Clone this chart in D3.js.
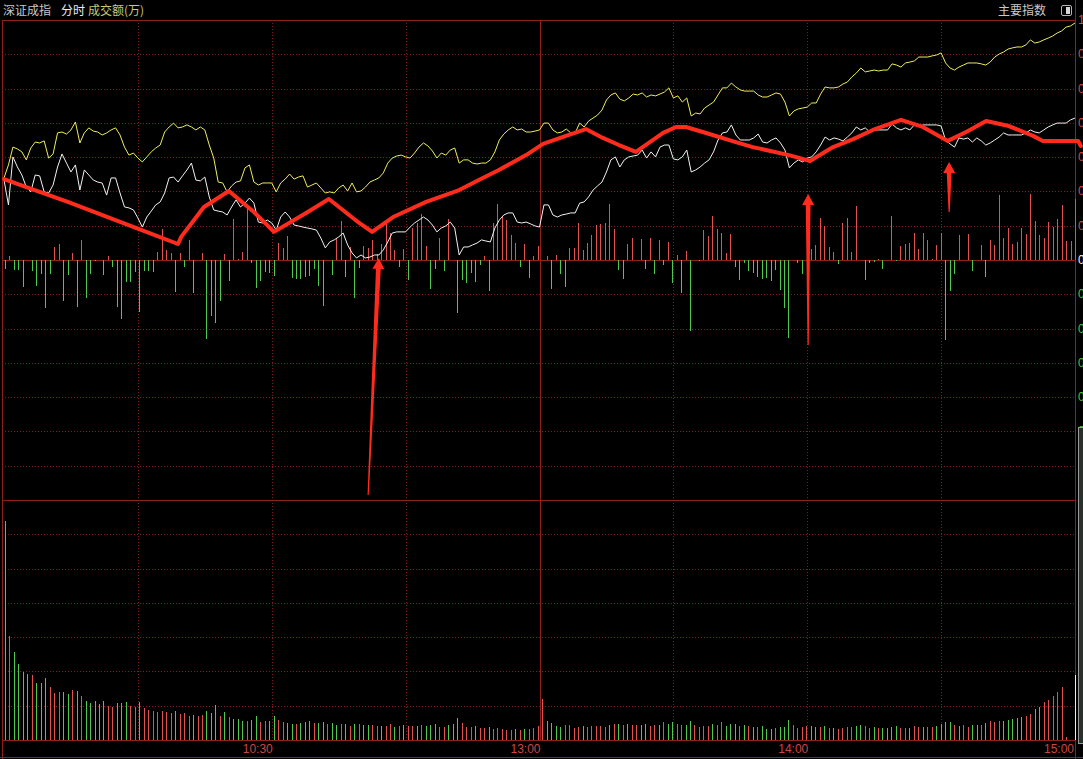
<!DOCTYPE html>
<html><head><meta charset="utf-8">
<script src="https://cdn.jsdelivr.net/npm/d3@7"></script>
<style>
html,body{margin:0;padding:0;background:#000;overflow:hidden;}
svg{display:block;}
</style></head><body>
<svg id="c" width="1083" height="759"></svg>
<script>
// ---------------- data ----------------
const headerTitle = "深证成指";
const headerMode = "分时";
const headerIndicator = "成交额(万)";
const headerRight = "主要指数";
const timeTickMinutes = [60, 120, 180, 240];
const timeTickLabels = ["10:30", "13:00", "14:00", "15:00"];
const gridMinutes = [30, 60, 90, 120, 150, 180, 210];
const priceTicks = [1.05, 0.90, 0.75, 0.60, 0.45, 0.30, 0.15, 0.00, -0.15, -0.30, -0.45, -0.60, -0.75, -0.90, -1.05];

// price change (%) per minute, white = index, yellow = leading line
const whiteLine = [
0.350,0.241,0.451,0.407,0.372,0.319,0.298,0.372,0.368,0.298,
0.293,0.328,0.407,0.464,0.424,0.385,0.416,0.306,0.394,0.372,
0.350,0.341,0.337,0.284,0.359,0.359,0.293,0.232,0.228,0.219,
0.184,0.144,0.188,0.214,0.241,0.254,0.293,0.359,0.363,0.341,
0.368,0.394,0.424,0.350,0.346,0.363,0.276,0.219,0.214,0.210,
0.197,0.232,0.263,0.232,0.249,0.271,0.249,0.166,0.162,0.175,
0.162,0.131,0.188,0.210,0.188,0.153,0.149,0.144,0.140,0.136,
0.131,0.096,0.053,0.079,0.088,0.101,0.118,0.066,0.031,0.009,
0.022,0.009,0.013,0.022,0.022,0.044,0.079,0.118,0.123,0.123,
0.123,0.144,0.162,0.175,0.188,0.175,0.153,0.123,0.140,0.149,
0.166,0.140,0.022,0.057,0.057,0.066,0.074,0.088,0.083,0.079,
0.140,0.175,0.197,0.206,0.206,0.166,0.162,0.166,0.158,0.149,
0.144,0.241,0.241,0.197,0.188,0.197,0.201,0.206,0.206,0.249,
0.254,0.276,0.306,0.324,0.341,0.385,0.438,0.451,0.407,0.438,
0.451,0.455,0.459,0.481,0.446,0.473,0.451,0.494,0.503,0.503,
0.442,0.438,0.451,0.481,0.385,0.394,0.407,0.424,0.438,0.473,
0.525,0.556,0.560,0.591,0.547,0.525,0.525,0.525,0.534,0.551,
0.516,0.512,0.525,0.534,0.512,0.481,0.403,0.424,0.438,0.429,
0.446,0.451,0.473,0.503,0.538,0.525,0.534,0.529,0.521,0.538,
0.556,0.582,0.569,0.578,0.560,0.569,0.569,0.569,0.569,0.595,
0.578,0.569,0.578,0.569,0.591,0.586,0.591,0.591,0.591,0.591,
0.586,0.525,0.508,0.494,0.534,0.529,0.534,0.516,0.534,0.521,
0.503,0.512,0.525,0.538,0.556,0.547,0.547,0.547,0.547,0.556,
0.569,0.560,0.556,0.569,0.582,0.591,0.599,0.599,0.599,0.613,
0.621];
const yellowLine = [
0.359,0.416,0.494,0.486,0.473,0.438,0.490,0.516,0.512,0.521,
0.446,0.464,0.556,0.560,0.551,0.569,0.604,0.512,0.556,0.578,
0.564,0.560,0.547,0.556,0.569,0.578,0.547,0.494,0.459,0.468,
0.446,0.429,0.451,0.473,0.490,0.503,0.560,0.582,0.599,0.578,
0.582,0.591,0.582,0.569,0.582,0.569,0.503,0.446,0.341,0.337,
0.298,0.324,0.341,0.346,0.403,0.416,0.341,0.328,0.337,0.337,
0.337,0.298,0.337,0.354,0.376,0.354,0.363,0.368,0.319,0.328,
0.337,0.315,0.293,0.298,0.293,0.315,0.328,0.302,0.337,0.298,
0.302,0.319,0.341,0.350,0.359,0.381,0.424,0.446,0.455,0.459,
0.451,0.446,0.468,0.494,0.512,0.499,0.477,0.446,0.468,0.459,
0.481,0.490,0.424,0.438,0.438,0.424,0.420,0.424,0.424,0.438,
0.473,0.525,0.551,0.569,0.582,0.569,0.573,0.560,0.560,0.564,
0.569,0.599,0.599,0.569,0.556,0.560,0.573,0.556,0.556,0.599,
0.582,0.608,0.621,0.634,0.656,0.700,0.722,0.731,0.704,0.696,
0.709,0.726,0.722,0.731,0.713,0.722,0.718,0.726,0.735,0.753,
0.709,0.718,0.691,0.709,0.630,0.643,0.639,0.665,0.678,0.691,
0.722,0.753,0.753,0.774,0.757,0.744,0.739,0.739,0.739,0.722,
0.713,0.713,0.722,0.731,0.726,0.691,0.630,0.652,0.661,0.665,
0.669,0.687,0.687,0.726,0.757,0.753,0.753,0.757,0.770,0.779,
0.801,0.818,0.840,0.823,0.827,0.831,0.827,0.831,0.831,0.858,
0.853,0.844,0.862,0.866,0.871,0.888,0.888,0.888,0.893,0.897,
0.906,0.862,0.840,0.831,0.844,0.853,0.862,0.862,0.862,0.858,
0.853,0.866,0.888,0.901,0.910,0.923,0.928,0.932,0.932,0.941,
0.963,0.949,0.954,0.963,0.971,0.980,0.993,1.002,1.019,1.024,
1.037];

// red / green strength bars around the zero line (basis points), one per minute
const flowBars = [
-3.9,1.8,-4.4,-4.4,-11.8,0,-4.8,-11.4,-6.1,-21.0,
-6.1,5.7,7.0,-17.9,-6.6,3.1,-20.6,8.8,-16.6,-6.1,
-0.4,0,-6.6,1.8,-3.1,-20.6,-25.8,-9.6,-9.6,-5.3,
-22.8,-4.8,-4.8,-5.3,3.5,13.6,4.4,3.1,-14.0,3.1,
-3.1,8.8,-14.4,0,3.1,-34.6,-24.5,-27.6,-17.9,2.6,
-9.2,17.9,0.4,3.5,22.3,-1.3,-12.3,-9.2,-5.3,-5.7,
-7.0,7.4,5.3,10.5,-7.9,-8.3,-8.3,-7.4,-7.0,-3.9,
-11.4,-20.1,0,-6.6,9.6,17.1,-7.4,5.7,-16.6,-3.5,
6.1,5.3,8.8,2.6,7.0,16.2,11.8,4.4,-3.1,4.8,
-8.8,14.0,16.2,20.1,6.1,-12.7,-3.9,9.6,-4.8,17.9,
0,-23.2,-8.8,-10.1,-5.7,-9.6,-2.2,1.8,-13.6,16.2,
24.5,19.3,17.5,10.9,7.4,-3.1,7.0,-7.9,1.8,6.1,
0,1.8,-12.7,2.2,-6.1,-11.8,5.3,5.3,16.2,4.4,
7.4,10.9,15.3,15.8,16.2,24.5,13.6,-4.4,-8.3,7.0,
9.6,0,9.2,-3.9,9.6,-6.1,8.8,-2.2,7.9,-10.1,
2.2,-14.4,3.9,-31.1,0,-0.4,13.1,10.5,19.3,13.6,
11.8,3.1,11.4,-3.1,-8.8,-1.3,-4.8,-5.7,-7.4,-8.3,
-7.9,-9.2,-4.4,-13.1,-21.0,-34.1,0,-1.3,-6.1,0,
4.8,6.6,18.4,14.9,5.7,3.5,-1.8,16.2,18.4,3.5,
23.6,0,-8.8,-1.3,-0.9,0.4,-3.9,0,19.3,-0.4,
6.1,7.0,7.4,11.8,4.8,11.8,8.8,0.4,6.6,11.8,
-35.0,-13.6,-6.1,10.9,0,11.4,-4.8,0,6.6,-7.4,
8.8,6.6,28.4,9.6,14.0,7.0,7.9,14.0,11.4,28.9,
17.1,10.9,9.6,16.6,14.4,17.9,24.1,8.3,8.3,26.7];

// turnover per minute (亿) and its colour code (R up, G down, W close)
const volume = [
438,208,176,152,136,132,130,114,114,124,
106,94,96,96,92,100,98,88,78,74,
78,72,78,68,66,74,74,76,68,66,
76,64,60,58,56,58,56,54,58,52,
54,48,50,48,50,58,54,70,48,56,
46,42,42,38,38,40,48,36,38,38,
48,40,36,34,32,32,34,36,38,34,
34,36,32,34,30,32,32,28,32,32,
30,30,30,28,28,28,32,26,28,30,
28,28,28,30,28,30,32,26,26,30,
32,44,34,26,26,28,24,24,26,22,
24,22,20,20,22,20,22,22,24,28,
82,38,34,28,26,30,30,24,26,28,
26,28,28,28,26,30,32,32,30,32,
30,30,30,32,28,30,30,36,32,36,
32,30,30,38,30,26,28,28,32,30,
36,28,32,32,28,30,28,26,26,28,
22,22,24,26,26,40,30,24,26,28,
28,26,26,28,24,24,22,24,26,26,
28,30,28,24,26,24,24,24,26,28,
24,24,24,28,26,26,26,26,28,32,
36,36,30,28,30,26,30,30,30,34,
38,36,38,38,40,42,44,46,48,52,
62,66,76,80,88,96,106,6,0,130];
const volumeColor =
"GRGGGGRGGG"+"RRRGGRGRGG"+"GGGRRGGGRR"+"GRRRRRRRGR"+"RRGRRGGGRG"+
"RGGGRGGRRG"+"GRRGGRGGGR"+"GGRGGRGRGR"+"GGRRGRRGRG"+"RRGRGGGRRG"+
"GGRRRGRRGR"+"RRRRGRGRRR"+"RGGGGRRRRG"+"RRRRRGRGRG"+"RRGGRRGRGG"+
"RRGGRRRRGR"+"RGGGRGRGRG"+"GGRGGGRRRR"+"GGRGRGRRRR"+"GGRRGRGGGG"+
"RRGRRGRRGG"+"GGRGRRGGRG"+"RRRGGGGGRR"+"GGRRRRRRRW";

// hand-drawn red annotation line (minute, %)
const noteT = [0,6.1,14.3,29.1,39.0,39.7,44.8,50.4,56.0,60.5,67.7,72.8,79.6,82.5,87.2,94.6,102.0,106.4,110.9,117.0,120.8,126.6,130.4,134.2,137.8,141.6,147.7,150.6,152.8,156.6,164.0,167.8,175.9,180.6,185.8,190.3,194.7,201.0,205.9,211.5,215.6,220.1,225.2,230.6,232.8,240.7,241.3];
const noteV = [0.354,0.311,0.254,0.144,0.070,0.101,0.232,0.302,0.210,0.123,0.206,0.267,0.162,0.123,0.188,0.254,0.306,0.350,0.394,0.459,0.508,0.547,0.573,0.534,0.503,0.473,0.556,0.582,0.582,0.560,0.516,0.494,0.459,0.433,0.494,0.529,0.569,0.613,0.582,0.521,0.560,0.608,0.586,0.543,0.521,0.521,0.499];
// arrows (minute, %)
const arrowTipT = [84.0, 180.2, 211.8];
const arrowTipV = [0.009, 0.289, 0.429];
const arrowTailT = [81.6, 180.2, 211.8];
const arrowTailV = [-1.028, -0.372, 0.210];

// ---------------- drawing ----------------
const svg = d3.select("#c");
const lineX = d3.scaleLinear().domain([0, 240]).range([4, 1075]);
const barX = d3.scaleLinear().domain([0, 239]).range([5, 1075]);
const yP = d3.scaleLinear().domain([-1.05, 1.05]).range([500, 20]);
const yFlow = d3.scaleLinear().domain([-105, 105]).range([500, 20]);
const yVol = d3.scaleLinear().domain([0, 480]).range([740, 500]);

const RED = "#e05252", GREEN = "#4fc84f";
const SOLID = "#8e2020", DOT = "#7c1c1c";
const px = v => Math.round(v) + 0.5;

svg.append("rect").attr("width", 1083).attr("height", 759).attr("fill", "#000");

const grid = svg.append("g").attr("shape-rendering", "crispEdges");
// horizontal price grid
priceTicks.forEach(v => {
  const y = px(yP(v));
  const solid = (v === 0 || Math.abs(v) === 1.05);
  grid.append("line").attr("x1", 2).attr("x2", 1075).attr("y1", y).attr("y2", y)
    .attr("stroke", solid ? SOLID : DOT)
    .attr("stroke-dasharray", solid ? null : "1,2");
});
// volume grid
d3.range(1, 7).forEach(i => {
  const y = px(yVol(480 * i / 7));
  grid.append("line").attr("x1", 2).attr("x2", 1075).attr("y1", y).attr("y2", y)
    .attr("stroke", DOT).attr("stroke-dasharray", "1,2");
});
grid.append("line").attr("x1", 2).attr("x2", 1075).attr("y1", px(yVol(0))).attr("y2", px(yVol(0))).attr("stroke", SOLID);
grid.append("line").attr("x1", 0).attr("x2", 1083).attr("y1", 757.5).attr("y2", 757.5).attr("stroke", SOLID);
// vertical grid
gridMinutes.forEach(m => {
  const x = px(lineX(m));
  const solid = m === 120;
  grid.append("line").attr("x1", x).attr("x2", x).attr("y1", 20).attr("y2", 740)
    .attr("stroke", solid ? SOLID : DOT).attr("stroke-dasharray", solid ? null : "1,2");
});
grid.append("line").attr("x1", 2.5).attr("x2", 2.5).attr("y1", 20).attr("y2", 759).attr("stroke", SOLID);
grid.append("line").attr("x1", 1075.5).attr("x2", 1075.5).attr("y1", 0).attr("y2", 759).attr("stroke", SOLID);

// strength bars
const fb = svg.append("g").attr("shape-rendering", "crispEdges");
flowBars.forEach((v, k) => {
  if (v === 0) return;
  const x = px(barX(k));
  fb.append("line").attr("x1", x).attr("x2", x)
    .attr("y1", yFlow(0)).attr("y2", yFlow(v))
    .attr("stroke", v > 0 ? RED : GREEN);
});

// volume bars
const vb = svg.append("g").attr("shape-rendering", "crispEdges");
volume.forEach((v, k) => {
  if (v === 0) return;
  const c = volumeColor[k];
  const x = px(barX(k));
  vb.append("line").attr("x1", x).attr("x2", x)
    .attr("y1", yVol(0)).attr("y2", yVol(v))
    .attr("stroke", c === "R" ? RED : c === "G" ? GREEN : "#eeeeee");
});

// price lines
const ln = d3.line().x((d, i) => lineX(i)).y(d => yP(d));
svg.append("path").attr("d", ln(yellowLine)).attr("fill", "none")
  .attr("stroke", "#eeee5a").attr("stroke-width", 1);
svg.append("path").attr("d", ln(whiteLine)).attr("fill", "none")
  .attr("stroke", "#f2f2f2").attr("stroke-width", 1);

// annotation line
const noteLine = d3.line().x(d => lineX(d[0])).y(d => yP(d[1]));
svg.append("path").attr("d", noteLine(noteT.map((t, i) => [t, noteV[i]])))
  .attr("fill", "none").attr("stroke", "#ff2b1c").attr("stroke-width", 4)
  .attr("stroke-linejoin", "round").attr("stroke-linecap", "round");

// arrows
arrowTipT.forEach((t, i) => {
  const tip = [lineX(t), yP(arrowTipV[i])];
  const tail = [lineX(arrowTailT[i]), yP(arrowTailV[i])];
  const dx = tip[0] - tail[0], dy = tip[1] - tail[1];
  const len = Math.hypot(dx, dy);
  const u = [dx / len, dy / len], n = [-u[1], u[0]];
  const L = 11, HW = 6, SW = 2.4, TW = 0.6;
  const B = [tip[0] - u[0] * L, tip[1] - u[1] * L];
  const pts = [
    [tail[0] + n[0] * TW, tail[1] + n[1] * TW],
    [B[0] + n[0] * SW, B[1] + n[1] * SW],
    [B[0] + n[0] * HW, B[1] + n[1] * HW],
    tip,
    [B[0] - n[0] * HW, B[1] - n[1] * HW],
    [B[0] - n[0] * SW, B[1] - n[1] * SW],
    [tail[0] - n[0] * TW, tail[1] - n[1] * TW]
  ];
  svg.append("polygon").attr("points", pts.map(p => p.join(",")).join(" "))
    .attr("fill", "#ff2b1c");
});

// right-side price labels (clipped by the window edge)
const font = "'Liberation Sans', 'Noto Sans CJK SC', sans-serif";
priceTicks.forEach(v => {
  svg.append("text").attr("x", 1078).attr("y", yP(v))
    .attr("dominant-baseline", "central")
    .attr("font-family", font).attr("font-size", 12)
    .attr("fill", v > 0 ? "#d84a4a" : v < 0 ? "#3cc83c" : "#f0f0f0")
    .text(Math.abs(v).toFixed(2) + "%");
});
// scroll strip
svg.append("rect").attr("x", 1078.5).attr("y", 427.5).attr("width", 6).attr("height", 316)
  .attr("fill", "#2c302c").attr("stroke", "#9a9a9a");

// time labels
timeTickMinutes.forEach((m, i) => {
  svg.append("text").attr("x", Math.min(lineX(m) + 1, 1074)).attr("y", 753)
    .attr("text-anchor", "end").attr("font-family", font).attr("font-size", 12)
    .attr("fill", "#cc4646").text(timeTickLabels[i]);
});

// header
const cjk = "'Noto Sans CJK SC', sans-serif";
svg.append("text").attr("x", 3).attr("y", 15).attr("font-family", cjk).attr("font-size", 12)
  .attr("fill", "#c8c8c8").text(headerTitle);
svg.append("text").attr("x", 61).attr("y", 15).attr("font-family", cjk).attr("font-size", 12)
  .attr("fill", "#ececec").text(headerMode);
svg.append("text").attr("x", 88).attr("y", 15).attr("font-family", cjk).attr("font-size", 12)
  .attr("fill", "#c8c878").text(headerIndicator);
svg.append("text").attr("x", 1046).attr("y", 15).attr("text-anchor", "end").attr("font-family", cjk)
  .attr("font-size", 12).attr("fill", "#c8c8c8").text(headerRight);
svg.append("rect").attr("x", 1061.5).attr("y", 5.5).attr("width", 10).attr("height", 10).attr("rx", 1.5)
  .attr("fill", "none").attr("stroke", "#b4b4b4");
svg.append("rect").attr("x", 1066).attr("y", 7).attr("width", 4).attr("height", 7).attr("fill", "#d8d8d8");
</script>
</body></html>
